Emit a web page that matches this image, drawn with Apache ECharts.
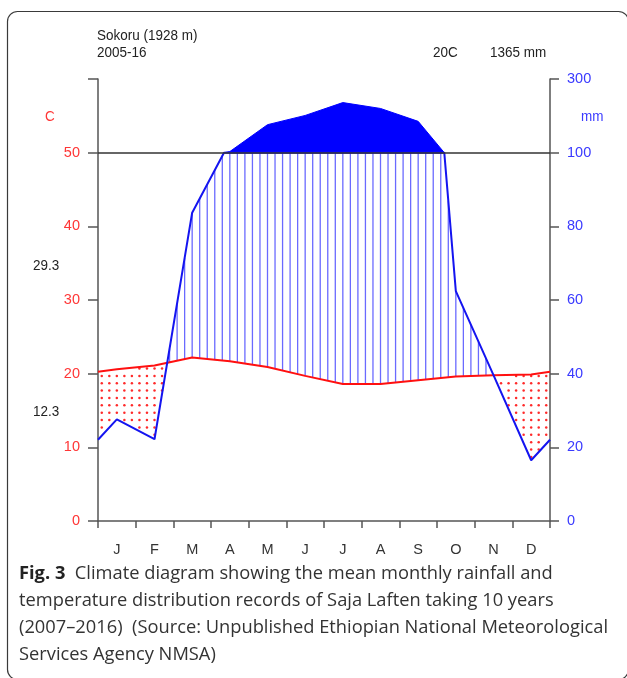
<!DOCTYPE html>
<html><head><meta charset="utf-8">
<script src="https://cdn.jsdelivr.net/npm/echarts@6/dist/echarts.min.js"></script>
<style>html,body{margin:0;padding:0;background:#fff}#c{width:627px;height:678px}</style>
</head><body><div id="c"></div>
<script>
// ---- data ----
const months = ['J','F','M','A','M','J','J','A','S','O','N','D'];
const tempC  = [20.6, 21.1, 22.2, 21.7, 20.9, 19.7, 18.6, 18.6, 19.1, 19.6, 19.8, 19.9];
const rainMm = [27.6, 22.2, 83.7, 103, 176, 201, 236, 220, 185, 62.4, 39.6, 16.5];
const leftTickLabels  = ['0','10','20','30','40','50',''];
const rightTickLabels = ['0','20','40','60','80','100','300'];
const stationLines = ['Sokoru (1928 m)', '2005-16'];
const meanTempText = '20C';
const totalRainText = '1365 mm';
const maxTempText = '29.3';
const minTempText = '12.3';
const captionBold = 'Fig. 3';
const captionLines = [
  'Climate diagram showing the mean monthly rainfall and',
  'temperature distribution records of Saja Laften taking 10 years',
  '(2007\u20132016)  (Source: Unpublished Ethiopian National Meteorological',
  'Services Agency NMSA)'
];

// ---- derived (Walter-Lieth construction) ----
const LIM = 100;
const edgeT = (tempC[11] + tempC[0]) / 2;
const edgeP = (rainMm[11] + rainMm[0]) / 2;
const xs = [0].concat(months.map((m, i) => i + 0.5), [12]);
const tExt = [edgeT].concat(tempC, [edgeT]);
const pExt = [edgeP].concat(rainMm, [edgeP]);
function rainY(p) { return p <= LIM ? p / 2 : 50 + (p - LIM) / 20; }

const tPts = xs.map((x, i) => [x, tExt[i]]);
const lowPts = [];
const topPolys = [];
let cur = null;
for (let i = 0; i < xs.length; i++) {
  const p = pExt[i];
  if (i > 0) {
    const p0 = pExt[i - 1];
    if ((p0 - LIM) * (p - LIM) < 0) {
      const f = (LIM - p0) / (p - p0);
      const xc = xs[i - 1] + f * (xs[i] - xs[i - 1]);
      lowPts.push([xc, 50]);
      if (p > LIM) { cur = [[xc, 50]]; }
      else if (cur) { cur.push([xc, 50]); topPolys.push(cur); cur = null; }
    }
  } else if (p > LIM) { cur = [[xs[0], 50]]; }
  lowPts.push([xs[i], Math.min(p, LIM) / 2]);
  if (p > LIM && cur) cur.push([xs[i], rainY(p)]);
}
if (cur) { cur.push([xs[xs.length - 1], 50]); topPolys.push(cur); }

function interp(pts, x) {
  for (let i = 1; i < pts.length; i++) {
    if (x <= pts[i][0]) {
      const a = pts[i - 1], b = pts[i];
      const f = (b[0] === a[0]) ? 0 : (x - a[0]) / (b[0] - a[0]);
      return a[1] + f * (b[1] - a[1]);
    }
  }
  return pts[pts.length - 1][1];
}

function renderFill(params, api) {
  const children = [];
  const step = 0.2;
  for (let k = 0; k < 60; k++) {
    const x = 0.1 + k * step;
    const t = interp(tPts, x), r = interp(lowPts, x);
    if (r > t) {
      const a = api.coord([x, t]), b = api.coord([x, r]);
      children.push({type: 'line', shape: {x1: a[0], y1: a[1], x2: b[0], y2: b[1]},
        style: {stroke: '#6a6aff', lineWidth: 1.3}});
    } else {
      for (let j = 0; j < 60; j++) {
        const y = j + 0.7;
        if (y < t - 0.15 && y > r + 0.3) {
          const c = api.coord([x, y]);
          children.push({type: 'circle', shape: {cx: c[0], cy: c[1], r: 1.25},
            style: {fill: '#ff2a2a'}});
        }
      }
    }
  }
  topPolys.forEach(poly => {
    children.push({type: 'polygon', shape: {points: poly.map(p => api.coord(p))},
      style: {fill: '#0000ff', stroke: '#0000ff', lineWidth: 1}});
  });
  return {type: 'group', children: children};
}

const FONT = '"Liberation Sans", Arial, sans-serif';
const FS = 14.5;
const CAP = '18.3px "Open Sans", sans-serif';
const axisLineStyle = {color: '#555', width: 1.5};

function headerText(txt, x, y, color) {
  return {type: 'text', x: x, y: y, scaleX: 0.93, originX: 0,
    style: {text: txt, font: FS + 'px ' + FONT, fill: color || '#222'}};
}

const option = {
  animation: false,
  backgroundColor: '#fff',
  grid: {left: 98, right: 77, top: 79, bottom: 157, containLabel: false, outerBoundsMode: 'none'},
  xAxis: [
    {type: 'value', min: 0, max: 12, interval: 1,
     axisLine: {show: true, onZero: false, lineStyle: axisLineStyle},
     axisTick: {show: true, inside: false, length: 7, lineStyle: axisLineStyle},
     axisLabel: {show: false}, splitLine: {show: false}},
    {type: 'category', data: months, position: 'bottom', boundaryGap: true,
     axisLine: {show: false}, axisTick: {show: false}, splitLine: {show: false},
     axisLabel: {color: '#333', fontSize: FS, margin: 21, fontFamily: FONT, interval: 0}}
  ],
  yAxis: [
    {type: 'value', min: 0, max: 60, interval: 10, position: 'left',
     axisLine: {show: true, onZero: false, lineStyle: axisLineStyle},
     axisTick: {show: true, length: 10, lineStyle: axisLineStyle},
     axisLabel: {formatter: v => leftTickLabels[Math.round(v / 10)], color: '#ff3636',
       margin: 18, fontSize: FS, fontFamily: FONT},
     splitLine: {show: false}},
    {type: 'value', min: 0, max: 60, interval: 10, position: 'right',
     axisLine: {show: true, onZero: false, lineStyle: axisLineStyle},
     axisTick: {show: true, length: 9, lineStyle: axisLineStyle},
     axisLabel: {formatter: v => rightTickLabels[Math.round(v / 10)], color: '#3a3aff',
       margin: 17, fontSize: FS, fontFamily: FONT},
     splitLine: {show: false}}
  ],
  series: [
    {type: 'custom', xAxisIndex: 0, yAxisIndex: 0, data: [[0, 0]], renderItem: renderFill,
     clip: false, silent: true, z: 1},
    {type: 'line', xAxisIndex: 0, yAxisIndex: 0, data: tPts, symbol: 'none', z: 3,
     lineStyle: {color: '#ff1010', width: 2}, silent: true,
     markLine: {silent: true, symbol: ['none', 'none'], label: {show: false},
       lineStyle: {color: '#333', width: 1.5, type: 'solid'}, data: [{yAxis: 50}]}},
    {type: 'line', xAxisIndex: 0, yAxisIndex: 0, data: lowPts, symbol: 'none', z: 4,
     lineStyle: {color: '#1414f0', width: 2}, silent: true}
  ],
  graphic: [
    {type: 'rect', shape: {x: 7.5, y: 11.5, width: 621, height: 668, r: 10},
     style: {fill: 'none', stroke: '#3a3a3a', lineWidth: 1.2}, silent: true},
    headerText(stationLines[0], 97, 28),
    headerText(stationLines[1], 97, 45),
    headerText(meanTempText, 433, 45),
    headerText(totalRainText, 490, 45),
    headerText('C', 45, 109, '#ff3636'),
    headerText('mm', 581, 109, '#3a3aff'),
    headerText(maxTempText, 33, 258),
    headerText(minTempText, 33, 404),
    {type: 'text', left: 19, top: 565, style: {
      text: '{b|' + captionBold + '}  ' + captionLines[0],
      font: CAP, fill: '#333',
      rich: {b: {fontWeight: 'bold', fontSize: 18.3, fontFamily: '"Open Sans", sans-serif', fill: '#222'}}}},
    {type: 'text', left: 19, top: 592, style: {text: captionLines[1], font: CAP, fill: '#333'}},
    {type: 'text', left: 19, top: 619, style: {text: captionLines[2], font: CAP, fill: '#333'}},
    {type: 'text', left: 19, top: 646, style: {text: captionLines[3], font: CAP, fill: '#333'}}
  ]
};
const chart = echarts.init(document.getElementById('c'), null, {renderer: 'canvas'});
chart.setOption(option);
</script></body></html>
